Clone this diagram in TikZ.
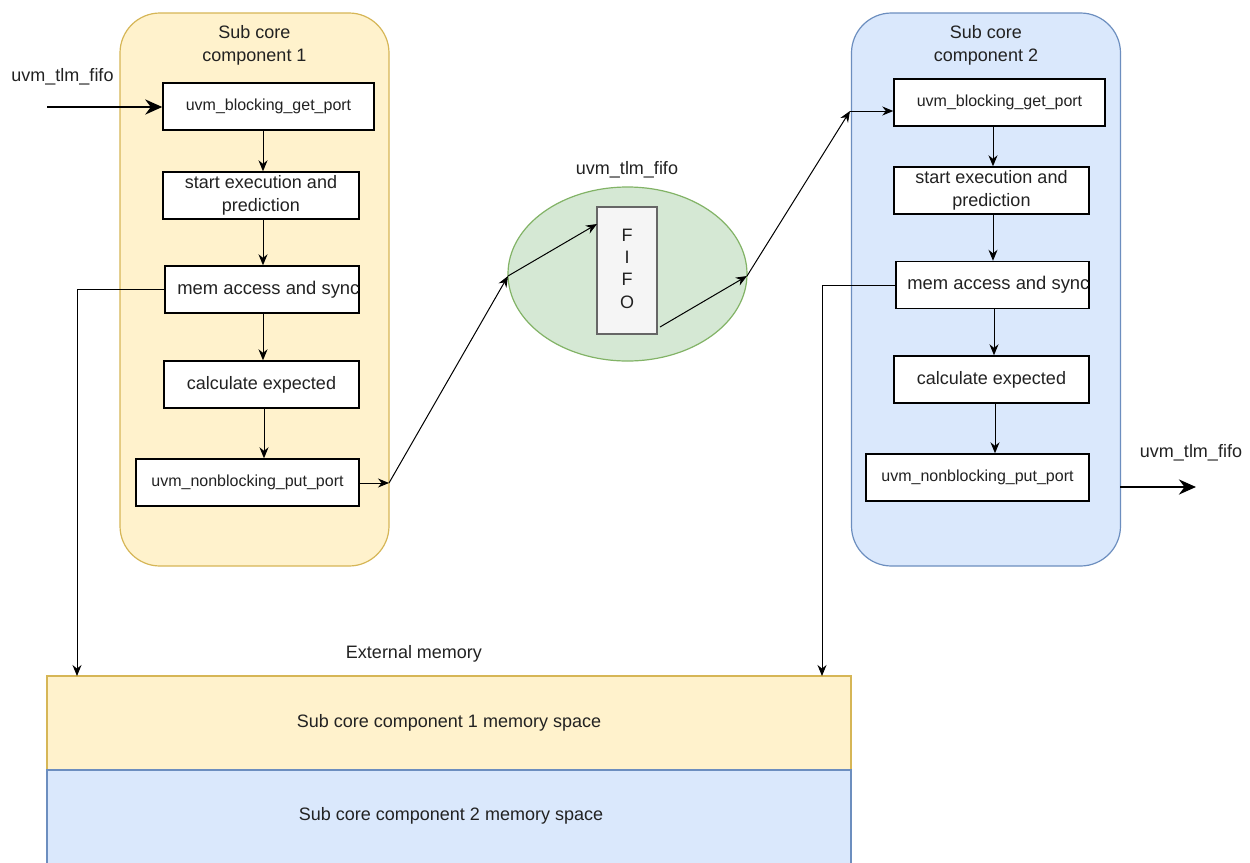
\documentclass[tikz,border=0pt]{standalone}
\usepackage{fontspec}
\setmainfont{Liberation Sans}
\usetikzlibrary{arrows.meta,calc,shapes.geometric}
\definecolor{yfill}{HTML}{FFF2CC}
\definecolor{ystroke}{HTML}{D6B656}
\definecolor{bfill}{HTML}{DAE8FC}
\definecolor{bstroke}{HTML}{6C8EBF}
\definecolor{gfill}{HTML}{D5E8D4}
\definecolor{gstroke}{HTML}{82B366}
\definecolor{ffill}{HTML}{F5F5F5}
\definecolor{fstroke}{HTML}{666666}
\definecolor{txt}{HTML}{222222}
\begin{document}
\begin{tikzpicture}[x=0.5pt,y=-0.5pt,
  every node/.style={text=txt},
  mainfont/.style={font=\fontsize{9}{11.5}\selectfont},
  smallfont/.style={font=\fontsize{8}{10}\selectfont},
  stepbox/.style={draw=black, fill=white, line width=0.7pt, minimum height=23.5pt, inner sep=0pt, align=center, mainfont},
  portbox/.style={stepbox, smallfont},
  core/.style={rounded corners=20pt, line width=0.6pt, minimum width=134.5pt, minimum height=276.5pt, inner sep=0pt},
  conn/.style={-{Stealth[length=5.5pt,width=4.5pt]}, line width=0.5pt},
  bigconn/.style={-{Stealth[length=8.5pt,width=7.5pt]}, line width=1.4pt},
  memband/.style={line width=0.6pt, minimum width=402pt, inner sep=0pt, mainfont}
]
\clip (0,0) rectangle (1250,863);
\fill[white] (0,0) rectangle (1250,863);

% containers
\node[core, fill=yfill, draw=ystroke] (lcore) at (254.5,289.5) {};
\node[core, fill=bfill, draw=bstroke] (rcore) at (986,289.5) {};
\node[mainfont, align=center, inner sep=0pt] (ltitle) at (254.5,45) {Sub core\\component 1};
\node[mainfont, align=center, inner sep=0pt] (rtitle) at (986,45) {Sub core\\component 2};

% left boxes
\node[portbox, minimum width=105.5pt] (lget) at (268.5,106.5) {uvm\_blocking\_get\_port};
\node[stepbox, minimum width=98pt] (lstart) at (261,195.5) {start execution and\\prediction};
\node[stepbox, minimum width=97pt] (lmem) at (262,289.5) {};
\node[stepbox, minimum width=97.5pt] (lcalc) at (261.5,384.5) {calculate expected};
\node[portbox, minimum width=111.5pt] (lput) at (247.5,482.5) {uvm\_nonblocking\_put\_port};
\begin{scope}
  \clip (lmem.south west) rectangle (lmem.north east);
  \node[font=\fontsize{9.2}{11}\selectfont, anchor=west, inner sep=0pt] (lmemtxt) at (177,289.5) {mem access and sync};
\end{scope}

% right boxes
\node[portbox, minimum width=105.5pt] (rget) at (999.5,102.5) {uvm\_blocking\_get\_port};
\node[stepbox, minimum width=97.5pt] (rstart) at (991.5,190.5) {start execution and\\prediction};
\node[stepbox, minimum width=96.5pt] (rmem) at (992.5,285) {};
\node[stepbox, minimum width=97.5pt] (rcalc) at (991.5,379.5) {calculate expected};
\node[portbox, minimum width=111.5pt] (rput) at (977.5,477.5) {uvm\_nonblocking\_put\_port};
\begin{scope}
  \clip (rmem.south west) rectangle (rmem.north east);
  \node[font=\fontsize{9.2}{11}\selectfont, anchor=west, inner sep=0pt] (rmemtxt) at (907,285) {mem access and sync};
\end{scope}

% vertical flow arrows
\draw[conn] (lget.south -| 263,0) -- (lstart.north -| 263,0);
\draw[conn] (lstart.south -| 263,0) -- (lmem.north -| 263,0);
\draw[conn] (lmem.south -| 263,0) -- (lcalc.north -| 263,0);
\draw[conn] (lcalc.south -| 264,0) -- (lput.north -| 264,0);
\draw[conn] (rget.south -| 993,0) -- (rstart.north -| 993,0);
\draw[conn] (rstart.south -| 993,0) -- (rmem.north -| 993,0);
\draw[conn] (rmem.south -| 994,0) -- (rcalc.north -| 994,0);
\draw[conn] (rcalc.south -| 995,0) -- (rput.north -| 995,0);

% FIFO
\node[ellipse, fill=gfill, draw=gstroke, line width=0.6pt, minimum width=119.5pt, minimum height=87pt, inner sep=0pt] (ell) at (627.5,274) {};
\node[draw=fstroke, fill=ffill, line width=0.6pt, minimum width=30pt, minimum height=63.5pt, inner sep=0pt] (fifo) at (627,270.5) {};
\node[align=center, inner sep=0pt, font=\fontsize{9}{11.2}\selectfont] (fifotxt) at (627,268.5) {F\\I\\F\\O};
\node[mainfont, inner sep=0pt] (fifolbl) at (627,170) {uvm\_tlm\_fifo};

% left input
\node[mainfont, inner sep=0pt] (inlbl) at (62.5,77) {uvm\_tlm\_fifo};
\coordinate (instart) at (47,107);
\draw[bigconn] (instart) -- (instart -| lget.west);

% put -> fifo chain
\coordinate (c1) at (389,483);
\coordinate (e1) at (508,276);
\coordinate (f1) at (597,224);
\coordinate (f2) at (660,327);
\coordinate (e2) at (747,276);
\coordinate (c2) at (850,111);
\draw[conn] (lput.east |- c1) -- (c1);
\draw[conn] (c1) -- (e1);
\draw[conn] (e1) -- (f1);
\draw[conn] (f2) -- (e2);
\draw[conn] (e2) -- (c2);
\draw[conn] (c2) -- (c2 -| rget.west);

% right output
\coordinate (outstart) at (1120,487);
\coordinate (outend) at (1196,487);
\draw[bigconn] (outstart) -- (outend);
\node[mainfont, inner sep=0pt] (outlbl) at (1191,453) {uvm\_tlm\_fifo};

% memory
\node[memband, fill=yfill, draw=ystroke, minimum height=47pt] (mem1) at (449,723) {Sub core component 1 memory space};
\node[memband, fill=bfill, draw=bstroke, minimum height=48pt] (mem2) at (449,818) {};
\node[mainfont, inner sep=0pt] (mem2txt) at (451,816) {Sub core component 2 memory space};
\node[mainfont, inner sep=0pt] (extlbl) at (414,654) {External memory};

\coordinate (ml) at (77,676);
\coordinate (mr) at (822,676);
\draw[conn] (lmem.west) -| (ml);
\draw[conn] (rmem.west) -| (mr);
\end{tikzpicture}
\end{document}
